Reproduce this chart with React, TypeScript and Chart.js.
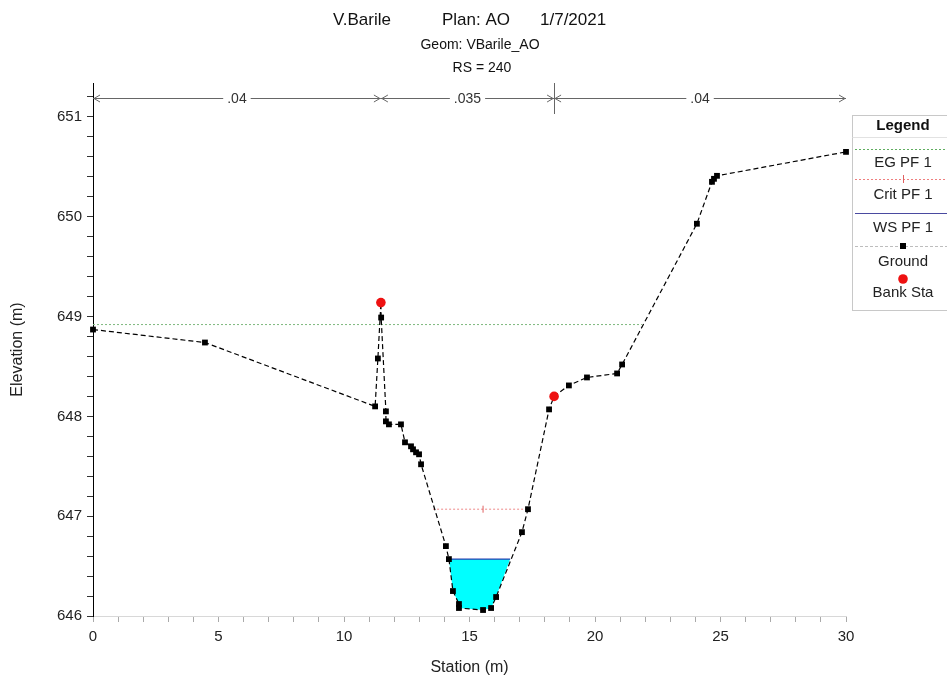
import React, { useEffect, useRef } from 'react';
import { Chart, registerables } from 'chart.js';

Chart.register(...registerables);

// ---- data ----
const groundStation = [0, 4.46, 11.24, 11.35, 11.47, 11.48, 11.67, 11.67, 11.79, 12.27, 12.43, 12.67, 12.75, 12.87, 12.99, 13.07, 14.06, 14.18, 14.34, 14.58, 14.58, 15.54, 15.86, 16.06, 17.09, 17.33, 18.17, 18.37, 18.96, 19.68, 20.88, 21.08, 24.06, 24.66, 24.74, 24.86, 30];
const groundElevation = [648.87, 648.74, 648.10, 648.58, 649.14, 648.99, 648.05, 647.95, 647.92, 647.92, 647.74, 647.70, 647.67, 647.64, 647.62, 647.52, 646.70, 646.57, 646.25, 646.12, 646.08, 646.06, 646.08, 646.19, 646.84, 647.07, 648.07, 648.20, 648.31, 648.39, 648.43, 648.52, 649.93, 650.35, 650.38, 650.41, 650.65];
const bankStation = [11.47, 18.37];
const bankElevation = [649.14, 648.2];
const egStation = [0, 21.87];
const egElevation = 648.92;
const critStation = [13.55, 15.54, 17.33];
const critElevation = 647.07;
const wsStation = [14.18, 16.62];
const wsElevation = 646.57;
const manningValues = ['.04', '.035', '.04'];
const manningBreaks = [0, 11.47, 18.37, 30];
const titleParts = ['V.Barile', 'Plan: AO', '1/7/2021'];
const subtitleLines = ['Geom: VBarile_AO', 'RS = 240'];
const legendItems = ['EG PF 1', 'Crit PF 1', 'WS PF 1', 'Ground', 'Bank Sta'];

const FONT = '"Liberation Sans", Arial, Helvetica, sans-serif';

const groundPts = groundStation.map((x, i) => ({ x, y: groundElevation[i] }));
const waterPts = [
  { x: wsStation[0], y: wsElevation },
  ...groundPts.filter((p) => p.x > wsStation[0] && p.x < wsStation[1] && p.y < wsElevation),
  { x: wsStation[1], y: wsElevation },
];

const overlayPlugin = {
  id: 'hecOverlay',
  afterDraw(chart: any) {
    const ctx = chart.ctx as CanvasRenderingContext2D;
    const xs = chart.scales.x;
    const area = chart.chartArea;
    ctx.save();

    // Titles
    ctx.fillStyle = '#111';
    ctx.textBaseline = 'middle';
    ctx.textAlign = 'left';
    ctx.font = `17px ${FONT}`;
    const tX = [333, 442, 540];
    titleParts.forEach((t, i) => ctx.fillText(t, tX[i], 20));
    ctx.textAlign = 'center';
    ctx.font = `14px ${FONT}`;
    ctx.fillText(subtitleLines[0], 480, 45);
    ctx.fillText(subtitleLines[1], 482, 68);

    // Manning's n bar
    const y = area.top + 15;
    ctx.strokeStyle = '#666';
    ctx.lineWidth = 1;
    ctx.font = `14px ${FONT}`;
    for (let i = 0; i < manningValues.length; i++) {
      const x1 = xs.getPixelForValue(manningBreaks[i]);
      const x2 = xs.getPixelForValue(manningBreaks[i + 1]);
      const mid = (x1 + x2) / 2;
      const w = ctx.measureText(manningValues[i]).width / 2 + 4;
      ctx.beginPath();
      ctx.moveTo(x1, y + 0.5);
      ctx.lineTo(mid - w, y + 0.5);
      ctx.moveTo(mid + w, y + 0.5);
      ctx.lineTo(x2, y + 0.5);
      ctx.moveTo(x1 + 7, y - 3);
      ctx.lineTo(x1 + 1, y + 0.5);
      ctx.lineTo(x1 + 7, y + 4);
      ctx.moveTo(x2 - 7, y - 3);
      ctx.lineTo(x2 - 1, y + 0.5);
      ctx.lineTo(x2 - 7, y + 4);
      ctx.stroke();
      ctx.fillStyle = '#333';
      ctx.fillText(manningValues[i], mid, y + 1);
    }
    const bx = Math.round(xs.getPixelForValue(manningBreaks[2])) + 0.5;
    ctx.beginPath();
    ctx.moveTo(bx, area.top);
    ctx.lineTo(bx, area.top + 31);
    ctx.stroke();

    // Legend box
    const L = 852.5;
    const R = 950;
    const cx = 903;
    ctx.strokeStyle = '#c8c8c8';
    ctx.strokeRect(L, 115.5, R - L, 195);
    ctx.fillStyle = '#111';
    ctx.font = `bold 15px ${FONT}`;
    ctx.fillText('Legend', cx, 126);
    ctx.strokeStyle = '#e2e2e2';
    ctx.beginPath();
    ctx.moveTo(L, 137.5);
    ctx.lineTo(R, 137.5);
    ctx.stroke();

    const hline = (yy: number, color: string, dash: number[], width = 1) => {
      ctx.save();
      ctx.strokeStyle = color;
      ctx.lineWidth = width;
      ctx.setLineDash(dash);
      ctx.beginPath();
      ctx.moveTo(855, yy + 0.5);
      ctx.lineTo(R, yy + 0.5);
      ctx.stroke();
      ctx.restore();
    };
    hline(149, '#5fae5f', [2, 2]);
    hline(179, '#ee7f7f', [2, 2]);
    ctx.strokeStyle = '#e06060';
    ctx.beginPath();
    ctx.moveTo(cx + 0.5, 175);
    ctx.lineTo(cx + 0.5, 183);
    ctx.stroke();
    hline(213, '#4a4aa0', [], 1.2);
    hline(246, '#bdbdbd', [3, 2]);
    ctx.fillStyle = '#000';
    ctx.fillRect(cx - 3, 243, 6, 6);
    ctx.fillStyle = '#ee1111';
    ctx.beginPath();
    ctx.arc(cx, 279, 4.8, 0, Math.PI * 2);
    ctx.fill();

    ctx.fillStyle = '#222';
    ctx.font = `15px ${FONT}`;
    const ty = [163, 195, 228, 262, 293];
    legendItems.forEach((t, i) => ctx.fillText(t, cx, ty[i]));

    ctx.restore();
  },
};

export default function App() {
  const ref = useRef<HTMLCanvasElement | null>(null);

  useEffect(() => {
    document.body.style.margin = '0';
    if (!ref.current) return;
    const chart = new Chart(ref.current, {
      type: 'line',
      data: {
        datasets: [
          {
            label: 'Bank Sta',
            data: bankStation.map((x, i) => ({ x, y: bankElevation[i] })),
            showLine: false,
            pointStyle: 'circle',
            pointRadius: 4.8,
            pointBackgroundColor: '#ee1111',
            pointBorderWidth: 0,
            borderColor: '#ee1111',
          },
          {
            label: 'Ground',
            data: groundPts,
            borderColor: '#000',
            borderWidth: 1.2,
            borderDash: [5, 3],
            pointStyle: 'rect',
            pointRadius: 4.1,
            pointBackgroundColor: '#000',
            pointBorderWidth: 0,
            fill: false,
            clip: false,
          },
          {
            label: 'EG PF 1',
            data: egStation.map((x) => ({ x, y: egElevation })),
            borderColor: '#7fb87f',
            borderWidth: 1,
            borderDash: [2, 2],
            pointRadius: 0,
            fill: false,
          },
          {
            label: 'Crit PF 1',
            data: critStation.map((x) => ({ x, y: critElevation })),
            borderColor: '#ee8888',
            borderWidth: 1,
            borderDash: [2, 2],
            pointStyle: 'line',
            rotation: 90,
            pointRadius: (c: any) => (c.dataIndex === 1 ? 3.5 : 0),
            pointBorderColor: '#e06060',
            pointBorderWidth: 1,
            fill: false,
          },
          {
            label: 'WS PF 1',
            data: wsStation.map((x) => ({ x, y: wsElevation })),
            borderColor: '#2a3fb0',
            borderWidth: 1.3,
            pointRadius: 0,
            fill: false,
          },
          {
            label: 'Water',
            data: waterPts,
            borderWidth: 0,
            borderColor: 'rgba(0,0,0,0)',
            backgroundColor: '#00ffff',
            pointRadius: 0,
            fill: { value: wsElevation },
          },
        ],
      },
      options: {
        animation: false,
        responsive: true,
        maintainAspectRatio: false,
        layout: { padding: { top: 83, right: 101, left: 0, bottom: 0 } },
        plugins: {
          legend: { display: false },
          title: { display: false },
          tooltip: { enabled: false },
        },
        elements: { line: { tension: 0 } },
        scales: {
          x: {
            type: 'linear',
            min: 0,
            max: 30,
            afterFit: (s: any) => {
              s.height = 66;
            },
            ticks: {
              stepSize: 1,
              autoSkip: false,
              maxRotation: 0,
              padding: 6,
              color: '#222',
              font: { family: FONT, size: 15 },
              callback: (v: any) => (Math.abs(v % 5) < 1e-6 ? String(v) : ''),
            },
            grid: {
              drawOnChartArea: false,
              drawTicks: true,
              tickLength: 6,
              tickColor: '#aaa',
            },
            border: { display: true, color: '#d8d8d8' },
            title: {
              display: true,
              text: 'Station (m)',
              color: '#222',
              font: { family: FONT, size: 16 },
              padding: { top: 4, bottom: 5 },
            },
          },
          y: {
            type: 'linear',
            min: 646,
            max: 651.34,
            afterFit: (s: any) => {
              s.width = 93;
            },
            ticks: {
              stepSize: 0.2,
              includeBounds: false,
              autoSkip: false,
              padding: 5,
              color: '#222',
              font: { family: FONT, size: 15 },
              callback: (v: any) => {
                const r = Math.round(v);
                return Math.abs(v - r) < 1e-6 ? String(r) : '';
              },
            },
            grid: {
              drawOnChartArea: false,
              drawTicks: true,
              tickLength: 6,
              tickColor: '#333',
            },
            border: { display: true, color: '#000' },
            title: {
              display: true,
              text: 'Elevation (m)',
              color: '#222',
              font: { family: FONT, size: 16 },
              padding: { top: 8, bottom: 0 },
            },
          },
        },
      },
      plugins: [overlayPlugin],
    } as any);
    return () => chart.destroy();
  }, []);

  return (
    <div style={{ width: 947, height: 682, position: 'relative', background: '#fff' }}>
      <canvas ref={ref} />
    </div>
  );
}
